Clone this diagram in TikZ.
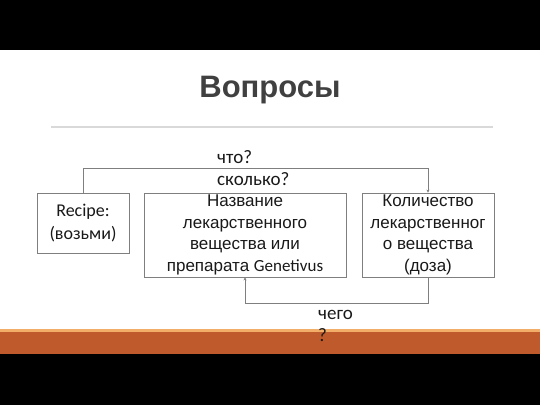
\documentclass[tikz,border=0pt]{standalone}
\usepackage{fontspec}
\setmainfont{Liberation Sans}
\newfontfamily\carlito{Carlito}
\usetikzlibrary{arrows.meta, positioning}
\definecolor{titlegray}{HTML}{404040}
\definecolor{boxgray}{HTML}{7F7F7F}
\definecolor{rulegray}{HTML}{D9D9D9}
\definecolor{bandorange}{HTML}{BE5A2B}
\definecolor{bandlight}{HTML}{F2AE68}
\tikzset{%
	every box/.style={
		draw=boxgray,
		line width=0.8pt,
		fill=white,
		inner sep=0pt,
		align=center,
		text=black!90,
		font=\fontsize{17}{21.5}\selectfont
	},
	question/.style={
		anchor=north west,
		align=left,
		inner sep=0pt,
		text=black!90,
		font=\carlito\fontsize{19}{22.5}\selectfont
	},
	link/.style={
		draw=boxgray,
		line width=0.8pt
	},
}

\begin{document}
\begin{tikzpicture}[x=1pt, y=-1pt]
	\useasboundingbox (0,0) rectangle (540,405);
	
	% Background bands
	\fill[black] (0,0) rectangle (540,50);
	\fill[bandlight] (0,329) rectangle (540,332);
	\fill[bandorange] (0,332) rectangle (540,354);
	\fill[black] (0,354) rectangle (540,405);
	
	% Title and rule
	\node[font=\bfseries\fontsize{31}{35}\selectfont, text=titlegray] (title) at (270,90) {Вопросы};
	\fill[rulegray] (51,126) rectangle (493,128);
	
	% Boxes
	\node[every box, minimum width=92pt, minimum height=60pt, font=\carlito\fontsize{18}{22.5}\selectfont] (recipe) at (83,223) {Recipe:\\(возьми)};
	\node[every box, minimum width=202pt, minimum height=84pt] (name) at (245,235) {Название\\лекарственного\\вещества или\\препарата {\carlito Genetivus}};
	\node[every box, minimum width=132pt, minimum height=84pt] (dose) at (428,235) {Количество\\лекарственног\\о вещества\\(доза)};
	
	% Connectors
	\draw[link, -{Stealth[length=3pt, width=3pt]}] (recipe.north) -- ++(0,-24) -| (dose.north);
	\draw[link, -{Stealth[length=3pt, width=3pt]}] (dose.south) -- ++(0,26) -| (name.south);
	
	% Questions
	\node[question] (what) at (217,150) {что?\\сколько?};
	\node[question] (whose) at (318,310) {чего\\?};
\end{tikzpicture}
\end{document}
